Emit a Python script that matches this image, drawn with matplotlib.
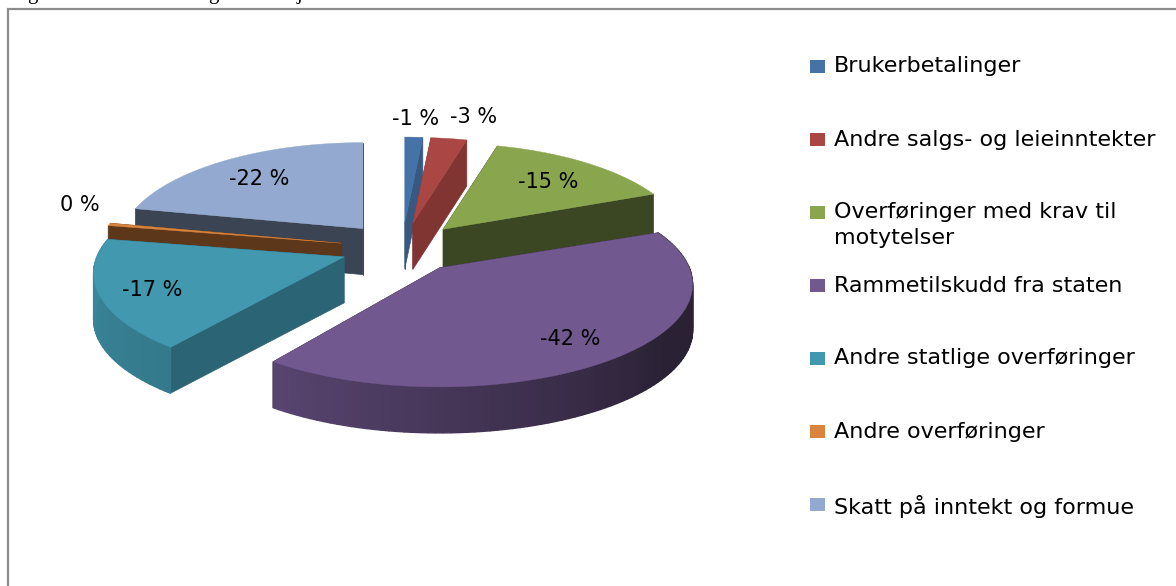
# -*- coding: utf-8 -*-
import numpy as np
import matplotlib
matplotlib.use('Agg')
import matplotlib.pyplot as plt
from matplotlib.patches import Rectangle
from matplotlib.colors import to_rgb

# data
navn = ['Brukerbetalinger', 'Andre salgs- og leieinntekter',
        'Overføringer med krav til\nmotytelser', 'Rammetilskudd fra staten',
        'Andre statlige overføringer', 'Andre overføringer',
        'Skatt på inntekt og formue']
verdier = [1.4, 2.8, 14.7, 41.6, 17.4, 0.4, 21.7]
etiketter = ['-1 %', '-3 %', '-15 %', '-42 %', '-17 %', '0 %', '-22 %']

# styling
farger = ['#4572A7', '#AA4643', '#89A54E', '#71588F', '#4198AF', '#DB843D', '#93A9CF']
side_faktor = [.78, .76, .43, .45, .66, .42, .40]
tegnefolge = [6, 5, 2, 0, 1, 4, 3]
etikett_r = [1.28, 1.35, .70, .78, .80, 1.1, .72]
etikett_skift = [(-1, 2), (13, 3), (0, 1), (3, 2), (0, 3), (-6, -18), (-2, 2)]
kutt = [0, 0, 0, 2.5, 0, 0, 0]   # perspektivet trekker kanten inn paa den store biten

# geometri (skraa pai med perspektiv)
cx, cy = 402., 248.
rx, ry, k = 245., 99.8, .161
eks_x, eks_y = 62., 25.
dybde = 46.


def lokal(theta, r=1.):
    t = np.radians(theta)
    u, v = r*np.sin(t), -r*np.cos(t)
    return rx*u/(1 - k*v), ry*v/(1 - k*v)


def mork(farge, f):
    return tuple(c*f for c in to_rgb(farge))


def lys_rand(theta):
    return np.interp(theta, [0, 100, 125, 219, 250, 285, 360],
                     [.6, .37, .37, .8, .85, .92, .92])


fig = plt.figure(figsize=(11.76, 5.86), dpi=100)
ax = fig.add_axes([0, 0, 1, 1])
ax.set_xlim(0, 1176)
ax.set_ylim(586, 0)
ax.axis('off')

# ramme
ax.plot([8, 8, 1180], [590, 8.5, 8.5], color='#8c8c8c', lw=1.6, solid_joinstyle='miter')

# avkuttet overskrift
for x_tekst, bokstav in zip([32, 213, 300], 'ggj'):
    ax.text(x_tekst, -1, bokstav, family='Liberation Serif', fontsize=15,
            ha='center', va='baseline', color='black')

kanter = np.concatenate([[0], np.cumsum(verdier)])/np.sum(verdier)*360.

for i in tegnefolge:
    t1, t2 = kanter[i], kanter[i + 1] - kutt[i]
    midt = (kanter[i] + kanter[i + 1])/2
    ax0 = cx + eks_x*np.sin(np.radians(midt))
    ay0 = cy - eks_y*np.cos(np.radians(midt))
    skala = 1 - .025*np.cos(np.radians(midt))

    vinkler = np.linspace(t1, t2, max(int((t2 - t1)/1.5), 2) + 1)
    kx, ky = lokal(vinkler)
    kx, ky = kx*skala + ax0, ky + ay0

    # kuttflater
    sidefarge = mork(farger[i], side_faktor[i])
    for px, py in [(kx[0], ky[0]), (kx[-1], ky[-1])]:
        ax.fill([ax0, px, px, ax0], [ay0, py, py + dybde, ay0 + dybde],
                color=sidefarge, lw=.5, zorder=1)

    # ytterkant, bare den som vender fremover
    if i in (3, 4):
        for j in range(len(vinkler) - 1):
            f = lys_rand((vinkler[j] + vinkler[j + 1])/2)
            ax.fill([kx[j], kx[j + 1], kx[j + 1], kx[j]],
                    [ky[j], ky[j + 1], ky[j + 1] + dybde, ky[j] + dybde],
                    color=mork(farger[i], f), lw=1, zorder=1)

    # toppflate
    ax.fill(np.r_[ax0, kx], np.r_[ay0, ky], color=farger[i], lw=.3, zorder=1)

    # etikett
    lx, ly = lokal(midt, etikett_r[i])
    ax.text(ax0 + lx + etikett_skift[i][0], ay0 + ly + etikett_skift[i][1], etiketter[i],
            family='DejaVu Sans', fontsize=15, ha='center', va='center', color='black', zorder=3)

# forklaring
for i, tekst in enumerate(navn):
    y = 66.5 + 73*i
    ax.add_patch(Rectangle((810, y - 6.5), 15, 13, color=farger[i], lw=0))
    ax.text(834, y - 10, tekst, family='DejaVu Sans', fontsize=16, va='top', ha='left',
            linespacing=1.37, color='black')

fig.savefig('out.png', dpi=100)
